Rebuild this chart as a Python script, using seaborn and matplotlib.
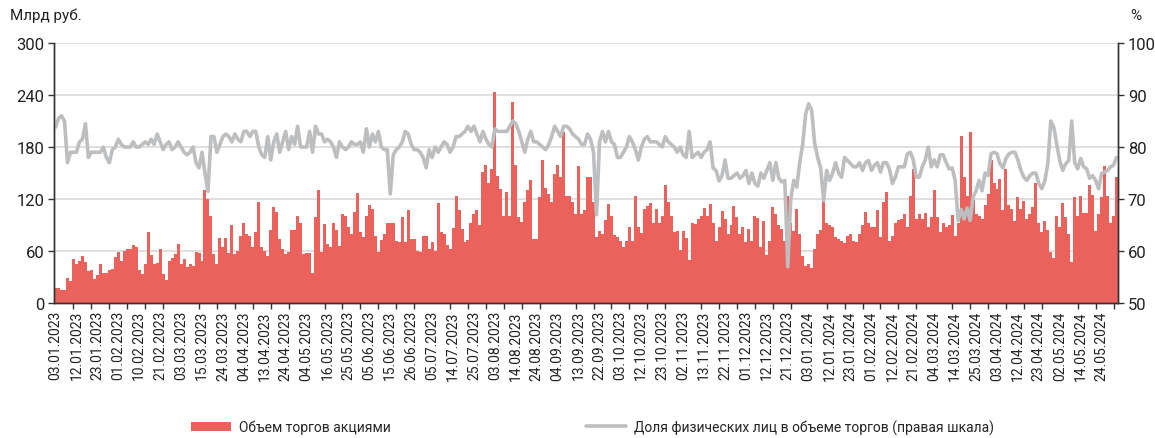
import matplotlib
matplotlib.use("Agg")
import matplotlib.pyplot as plt
from matplotlib.lines import Line2D
from matplotlib.patches import Patch
from matplotlib.ticker import FixedLocator, MultipleLocator
import numpy as np
import seaborn as sns

# --- data (daily, trading days 03.01.2023 - 31.05.2024) ---
volume = [
    18, 18, 15, 15, 29, 26, 51, 45, 49, 54, 48, 37, 38, 28, 33, 45, 35, 35, 38, 39,
    53, 59, 49, 60, 62, 63, 67, 65,
    38, 34, 45, 82, 56, 45, 46, 63, 34, 27, 49, 52, 57, 68, 45, 51, 42, 45, 43, 59,
    58, 49, 131, 120, 100, 57, 45, 75, 65,
    75, 58, 90, 57, 60, 77, 92, 80, 78, 65, 82, 117, 65, 60, 55, 84, 111, 105, 74, 63,
    57, 59, 84, 84, 101, 92, 57, 58, 58, 35, 99,
    130, 59, 91, 68, 65, 93, 84, 66, 103, 101, 88, 80, 105, 127, 82, 76, 101, 113, 109,
    78, 59, 73, 80, 92, 92, 92, 72, 70, 99,
    70, 107, 74, 74, 60, 59, 78, 77, 63, 70, 60, 115, 82, 80, 67, 63, 87, 123, 107, 86,
    70, 73, 93, 103, 107, 90, 151, 159, 138, 155,
    243, 147, 132, 100, 128, 100, 232, 159, 99, 94, 117, 130, 142, 74, 74, 122, 165, 133,
    126, 117, 149, 159, 145, 197, 124, 124, 117, 103, 158, 103,
    107, 146, 146, 117, 76, 83, 80, 96, 114, 100, 79, 76, 72, 65, 72, 88, 72, 123, 88, 81,
    109, 112, 115, 93, 109, 92, 100, 136, 117, 101,
    82, 83, 61, 83, 75, 50, 92, 91, 97, 100, 110, 100, 114, 92, 72, 88, 106, 97, 80, 90,
    112, 99, 80, 88, 70, 86, 72, 100, 98, 65, 95,
    56, 72, 111, 103, 90, 86, 72, 124, 92, 83, 109, 80, 55, 43, 45, 41, 62, 80, 84, 118,
    92, 90, 88, 76, 74, 72, 69, 78, 80, 72,
    70, 80, 90, 105, 92, 88, 88, 107, 76, 117, 128, 72, 77, 93, 96, 97, 103, 88, 124, 155,
    97, 103, 97, 104, 88, 99, 130, 99, 82, 93,
    88, 90, 102, 78, 93, 193, 146, 124, 197, 119, 103, 101, 97, 113, 126, 165, 138, 132,
    143, 107, 155, 113, 109, 95, 122, 109, 118, 97, 103, 111,
    138, 93, 82, 95, 84, 59, 52, 100, 88, 115, 99, 80, 47, 122, 101, 123, 104, 104, 136,
    125, 83, 103, 122, 158, 124, 93, 100, 145,
]

retail_share = [
    83.8, 85.5, 86, 85, 77, 79, 79, 79, 81, 81.5, 84.5, 78, 79, 79, 79, 79, 80, 78, 77, 79.5,
    80, 81.5, 80.5, 80, 80, 80, 81, 80,
    80, 80.5, 81, 80.5, 81.5, 80.5, 82.5, 81, 79.5, 80.5, 81, 79.5, 80, 81, 80, 79, 78.5, 79,
    80, 77, 76, 79, 75, 71.5, 82, 82, 79, 80.5, 82,
    82.5, 82, 81, 82.5, 81.5, 81, 83, 83, 82, 83, 83, 80, 78.5, 78, 82, 77.5, 81, 82.5, 79,
    81, 83, 79.5, 82, 80.5, 84, 80, 80, 80, 83, 79, 84,
    82.5, 82.5, 81, 81.5, 81, 80, 78, 81, 80, 79.5, 80, 81, 80.5, 80.5, 81, 79, 83.5, 80,
    82.5, 81, 83, 80, 79.5, 79.5, 71, 78.5, 79.5, 80, 81,
    83, 82.5, 80.5, 79.5, 79.5, 79, 78, 76, 79.5, 78, 80, 79, 80, 81, 80.5, 79, 80, 82, 82,
    82.5, 83, 84, 83, 84, 82.5, 81, 83, 81.5, 80.5, 80,
    83.5, 83, 83, 83, 83, 84, 85, 84.5, 83, 81, 79, 81.5, 83, 81, 81, 80.5, 80, 79.5, 80.5,
    82, 84, 83, 82, 84, 84, 83.5, 82.5, 82, 81.5, 80.5,
    80.5, 82.5, 81.5, 79, 67, 81, 83, 81, 83, 81, 80.5, 78, 78, 79, 80, 82, 81, 79.5, 77.5,
    80, 81.5, 82, 81, 81, 81, 80.5, 80, 82, 81, 80.5,
    80, 79, 80, 78.5, 78, 83, 78, 78.5, 79, 78, 79, 79.5, 81, 76, 75.5, 73.5, 74.5, 77.5,
    74, 74, 74.5, 75, 74, 74.5, 75.5, 73, 75, 73, 72.5, 75, 74,
    75.5, 77, 73.6, 77, 74, 73.3, 73.6, 57, 70, 73.6, 72.3, 77, 80.6, 86.4, 88.3, 87, 80.6,
    78, 76, 69.7, 75.5, 73.6, 75, 77, 75, 74.2, 78, 77.4, 76.8, 76.2,
    76.2, 77, 75.5, 77, 77.4, 75.5, 76.5, 77, 75.2, 77, 77, 75.8, 73, 74.2, 76.2, 76.2,
    76.2, 78.7, 79, 77.5, 74.2, 74.2, 76.2, 77.5, 80, 76.2, 77.5, 76.2, 78.5, 78.5,
    77, 75.8, 76, 73.6, 65.9, 68, 66.2, 68.3, 65.9, 70.4, 71.6, 73.6, 71.6, 75, 74.5, 78.7,
    79, 78.7, 76.8, 76, 77.8, 78.7, 79, 79, 77.5, 75.5, 74.2, 73.6, 74.5, 75,
    75, 73, 72, 73.5, 76.8, 85, 83.8, 80.5, 77.4, 75.5, 76.8, 77.4, 85, 77, 75.8, 77.8,
    76.2, 75.8, 74, 74.5, 73.6, 72, 74.9, 75.2, 75.5, 76.2, 76.5, 78,
]

date_labels = [
    "03.01.2023", "12.01.2023", "23.01.2023", "01.02.2023", "10.02.2023", "21.02.2023",
    "03.03.2023", "15.03.2023", "24.03.2023", "04.04.2023", "13.04.2023", "24.04.2023",
    "04.05.2023", "16.05.2023", "25.05.2023", "05.06.2023", "15.06.2023", "26.06.2023",
    "05.07.2023", "14.07.2023", "25.07.2023", "03.08.2023", "14.08.2023", "24.08.2023",
    "04.09.2023", "13.09.2023", "22.09.2023", "03.10.2023", "12.10.2023", "23.10.2023",
    "02.11.2023", "13.11.2023", "22.11.2023", "01.12.2023", "12.12.2023", "21.12.2023",
    "03.01.2024", "12.01.2024", "23.01.2024", "01.02.2024", "12.02.2024", "21.02.2024",
    "04.03.2024", "14.03.2024", "25.03.2024", "03.04.2024", "12.04.2024", "23.04.2024",
    "02.05.2024", "14.05.2024", "24.05.2024",
]
label_step = 7

BAR_COLOR = "#EB625C"
LINE_COLOR = "#BDBEC0"

sns.set_theme(style="white")
plt.rcParams["font.family"] = ["Roboto", "DejaVu Sans"]
plt.rcParams["axes.edgecolor"] = "#333333"

n = len(volume)
pos = np.arange(n)

fig = plt.figure(figsize=(11.55, 4.39), dpi=100)
ax = fig.add_axes([0.0468, 0.307, 0.9212, 0.593])

sns.barplot(x=pos, y=volume, color=BAR_COLOR, saturation=1, width=1.0,
            linewidth=0, ax=ax)
ax.set_xlim(-0.5, n - 0.5)
ax.set_ylim(0, 300)
ax.set_yticks(np.arange(0, 301, 60))
ax.yaxis.grid(True, color="#D9D9D9", linewidth=1.2)
ax.set_axisbelow(True)
ax.set_xlabel("")
ax.set_ylabel("")

ax2 = ax.twinx()
sns.lineplot(x=pos, y=retail_share, color=LINE_COLOR, linewidth=2.6, ax=ax2)
ax2.set_ylim(50, 100)
ax2.set_yticks(np.arange(50, 101, 10))
ax2.set_ylabel("")

for a in (ax, ax2):
    a.spines["top"].set_visible(False)
    for s in ("left", "right", "bottom"):
        a.spines[s].set_color("#333333")
        a.spines[s].set_linewidth(1.0)

# labels every 7 trading days, small tick marks every 6
ax.xaxis.set_major_locator(FixedLocator(pos[::label_step][:len(date_labels)]))
ax.set_xticklabels(date_labels, rotation=90, fontsize=10, color="#222222")
ax.xaxis.set_minor_locator(MultipleLocator(6))
ax.tick_params(axis="x", which="major", length=0, pad=5)
ax.tick_params(axis="x", which="minor", length=4, width=1, color="#333333",
               direction="out", bottom=True)
ax.tick_params(axis="y", length=4, width=1, color="#333333", direction="out",
               left=True, labelsize=12, labelcolor="#222222", pad=3)
ax2.tick_params(axis="y", length=4, width=1, color="#333333", direction="out",
                right=True, labelsize=12, labelcolor="#222222", pad=3)

fig.text(0.009, 0.963, "Млрд руб.", fontsize=11, color="#222222", va="center")
fig.text(0.988, 0.963, "%", fontsize=11, color="#222222", va="center", ha="right")

handles = [
    Patch(facecolor=BAR_COLOR, edgecolor="none", label="Объем торгов акциями"),
    Line2D([0], [0], color=LINE_COLOR, linewidth=2.6,
           label="Доля физических лиц в объеме торгов (правая шкала)"),
]
fig.legend(handles=handles, loc="center", bbox_to_anchor=(0.513, 0.025), ncol=2,
           frameon=False, fontsize=10, handlelength=2.9, handleheight=0.7,
           handletextpad=0.6, columnspacing=14)

fig.savefig("out.png", dpi=100)
